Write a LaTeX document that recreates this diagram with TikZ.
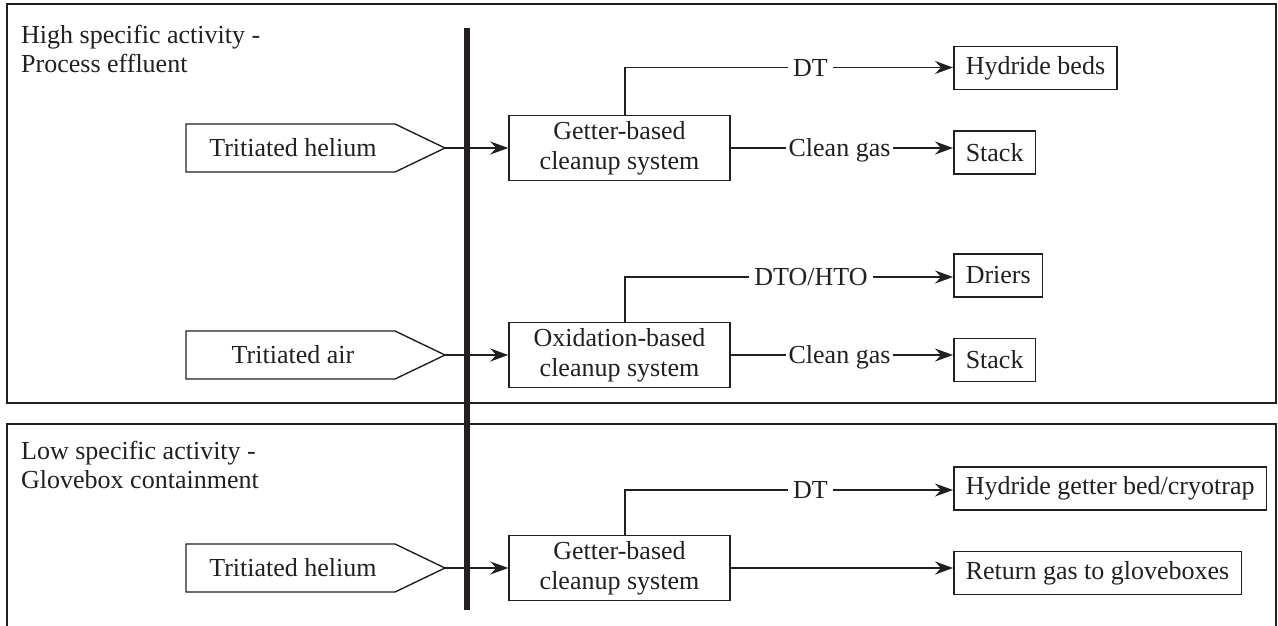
\documentclass[tikz,border=0pt]{standalone}
\usepackage{fontspec}
\setmainfont{Liberation Serif}
\usetikzlibrary{arrows.meta,calc}
\definecolor{ink}{RGB}{35,31,32}
\begin{document}
\begin{tikzpicture}[x=1pt,y=-1pt,
  every node/.style={font=\fontsize{26}{30}\selectfont, text=ink},
  frame/.style={draw=ink, line width=1.4pt},
  procbox/.style={draw=ink, line width=1.5pt, minimum width=221pt, minimum height=65pt, align=center, inner sep=0pt},
  outbox/.style={draw=ink, line width=1.5pt, minimum height=43pt, inner xsep=12pt, inner ysep=0pt, anchor=west},
  lbl/.style={inner xsep=5pt, inner ysep=0pt, text height=17.2pt, text depth=0pt},
  title/.style={anchor=base west, inner sep=0pt},
  intext/.style={inner sep=0pt},
  conn/.style={draw=ink, line width=1.3pt},
  arr/.style={conn, -{Stealth[length=18pt,width=13pt,inset=6pt]}},
  inshape/.style={draw=ink, line width=1.4pt, line join=miter},
]
\useasboundingbox (0,0) rectangle (1278,625);

% frames
\draw[frame] (7,4) rectangle (1276,403);
\draw[frame] (7,630) -- (7,424) -- (1276,424) -- (1276,630);

% titles
\node[title] (t1a) at (21,43.3) {High specific activity -};
\node[title] (t1b) at (21,72.7) {Process effluent};
\node[title] (t2a) at (21,459.3) {Low specific activity -};
\node[title] (t2b) at (21,488.3) {Glovebox containment};

% barrier
\coordinate (bartop) at (467,28);
\coordinate (barbot) at (467,610);
\draw[ink, line width=6pt] (bartop) -- (barbot);

% ---------- row 1 ----------
\node[intext] (in1) at (293,148) {Tritiated helium};
\draw[inshape] (186,124) -- (395,124) -- (445,148) coordinate (tip1) -- (395,172) -- (186,172) -- cycle;
\node[procbox] (g1) at (619.5,148) {Getter-based\\cleanup system};
\coordinate (v1) at (625,0);
\node[outbox] (hb) at (953,68) {Hydride beds};
\node[outbox] (st1) at (953,152.5) {Stack};
\node[lbl] (dt1) at (810.5,67.5) {DT};
\node[lbl, inner xsep=2pt] (cg1) at (839.5,148) {Clean gas};
\draw[arr] (tip1) -- (g1.west);
\draw[conn] (g1.north -| v1) |- (dt1.west);
\draw[arr] (dt1.east) -- (dt1.east -| hb.west);
\draw[conn] (g1.east) -- (cg1.west);
\draw[arr] (cg1.east) -- (cg1.east -| st1.west);

% ---------- row 2 ----------
\node[intext] (in2) at (293,355) {Tritiated air};
\draw[inshape] (186,331) -- (395,331) -- (445,355) coordinate (tip2) -- (395,379) -- (186,379) -- cycle;
\node[procbox] (ox) at (619.5,355) {Oxidation-based\\cleanup system};
\node[outbox] (dr) at (953,275.5) {Driers};
\node[outbox] (st2) at (953,360) {Stack};
\node[lbl] (dto) at (811,277) {DTO/HTO};
\node[lbl, inner xsep=2pt] (cg2) at (839.5,355) {Clean gas};
\draw[arr] (tip2) -- (ox.west);
\draw[conn] (ox.north -| v1) |- (dto.west);
\draw[arr] (dto.east) -- (dto.east -| dr.west);
\draw[conn] (ox.east) -- (cg2.west);
\draw[arr] (cg2.east) -- (cg2.east -| st2.west);

% ---------- row 3 ----------
\node[intext] (in3) at (293,568) {Tritiated helium};
\draw[inshape] (186,544) -- (395,544) -- (445,568) coordinate (tip3) -- (395,592) -- (186,592) -- cycle;
\node[procbox] (g3) at (619.5,568) {Getter-based\\cleanup system};
\node[outbox] (hg) at (953,488.5) {Hydride getter bed/cryotrap};
\node[outbox] (rg) at (953,573) {Return gas to gloveboxes};
\node[lbl] (dt3) at (810.5,490) {DT};
\draw[arr] (tip3) -- (g3.west);
\draw[conn] (g3.north -| v1) |- (dt3.west);
\draw[arr] (dt3.east) -- (dt3.east -| hg.west);
\draw[arr] (g3.east) -- (g3.east -| rg.west);
\end{tikzpicture}
\end{document}
